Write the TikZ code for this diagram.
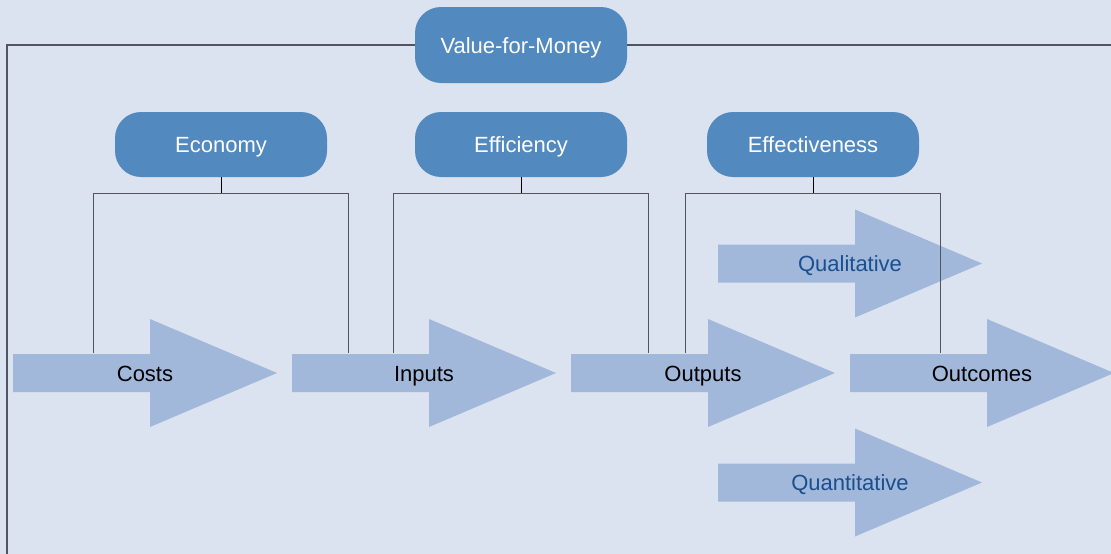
\documentclass[tikz,border=0pt]{standalone}
\usepackage{fontspec}
\setmainfont{Liberation Sans}
\definecolor{bg}{HTML}{DCE3F0}
\definecolor{boxblue}{HTML}{5289BF}
\definecolor{arrowblue}{HTML}{A2B8DA}
\definecolor{darkblue}{HTML}{1A4F8F}
\definecolor{framegray}{HTML}{50555F}
\newcommand\flowarrow[2]{%
  \fill[arrowblue] (#1,#2-19) -- (#1+137,#2-19) -- (#1+137,#2-54) -- (#1+264,#2)
    -- (#1+137,#2+54) -- (#1+137,#2+19) -- (#1,#2+19) -- cycle;}
\begin{document}
\begin{tikzpicture}[x=1pt,y=-1pt,
  vbox/.style={fill=boxblue, rounded corners=26pt, minimum width=212pt,
    minimum height=65pt, text=white, inner sep=0pt,
    text height=16pt, text depth=0pt,
    font=\fontsize{22}{26}\selectfont},
  lbl/.style={font=\fontsize{22}{26}\selectfont, inner sep=0pt, text=black,
    text height=16pt, text depth=0pt},
  sublbl/.style={lbl, text=darkblue},
  frameline/.style={draw=framegray, line width=1.2pt},
  bracket/.style={draw=framegray, line width=0.9pt},
  stub/.style={draw=black, line width=1pt}]
\useasboundingbox[fill=bg] (0,0) rectangle (1111,554);
% arrows
\flowarrow{13}{373}
\flowarrow{292}{373}
\flowarrow{571}{373}
\flowarrow{850}{373}
\flowarrow{718}{263.5}
\flowarrow{718}{482.5}
% boxes
\node[vbox, minimum height=76pt] (vfm) at (521,45) {Value-for-Money};
\node[vbox] (eco) at (221,144.5) {Economy};
\node[vbox] (eff) at (521,144.5) {Efficiency};
\node[vbox] (efv) at (813,144.5) {Effectiveness};
% frame
\draw[frameline] (vfm.west) -- (7,45) -- (7,554);
\draw[frameline] (vfm.east) -- (1111,45);
% brackets
\coordinate (ecoJ) at (221,193);
\coordinate (effJ) at (521,193);
\coordinate (efvJ) at (813,193);
\draw[stub] (eco.south) -- (ecoJ);
\draw[stub] (eff.south) -- (effJ);
\draw[stub] (efv.south) -- (efvJ);
\draw[bracket] (93,353) -- (93,193) -- (348,193) -- (348,353);
\draw[bracket] (393,353) -- (393,193) -- (648,193) -- (648,353);
\draw[bracket] (685,353) -- (685,193) -- (940,193) -- (940,353);
% labels
\node[lbl] (costs) at (145,373) {Costs};
\node[lbl] (inputs) at (424,373) {Inputs};
\node[lbl] (outputs) at (703,373) {Outputs};
\node[lbl] (outcomes) at (982,373) {Outcomes};
\node[sublbl] (qual) at (850,263.5) {Qualitative};
\node[sublbl] (quant) at (850,482.5) {Quantitative};
\end{tikzpicture}
\end{document}
